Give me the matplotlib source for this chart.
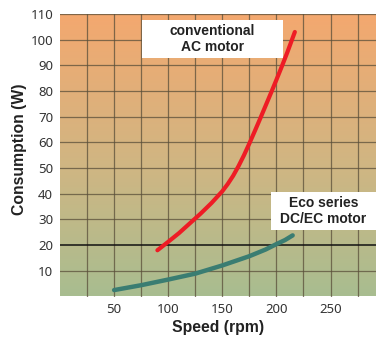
import numpy as np
import matplotlib
matplotlib.use("Agg")
import matplotlib.pyplot as plt
from matplotlib.colors import LinearSegmentedColormap
from matplotlib.patches import Rectangle

# ---- data ----
ac_speed = [90, 100, 110, 120, 130, 140, 150, 155, 160, 165, 170, 175, 180,
            185, 190, 195, 200, 205, 210, 217]
ac_power = [18, 21.3, 24.7, 28.5, 32.3, 36.4, 41, 43.8, 47, 50.8, 55, 59.6,
            64.4, 69.3, 74.3, 79.3, 84.4, 89.6, 95, 103]
eco_speed = [50, 75, 100, 125, 150, 175, 190, 200, 208, 215]
eco_power = [2.5, 4.4, 6.6, 8.9, 12.1, 15.7, 18.3, 20.4, 22.0, 23.8]
x_ticks = [50, 100, 150, 200, 250]
y_ticks = [10, 20, 30, 40, 50, 60, 70, 80, 90, 100, 110]
ac_label = "conventional\nAC motor"
eco_label = "Eco series\nDC/EC motor"
x_title = "Speed (rpm)"
y_title = "Consumption (W)"

W, H = 376, 340
fig = plt.figure(figsize=(W / 100, H / 100), dpi=100)
fig.patch.set_facecolor("white")
ax = fig.add_axes([60 / W, 1 - 296.5 / H, 316 / W, (296.5 - 14) / H])

xmax, ymax = 292, 110
ax.set_xlim(0, xmax)
ax.set_ylim(0, ymax)

# gradient background
cmap = LinearSegmentedColormap.from_list(
    "bg", [(0.0, "#a8bd90"), (0.45, "#cfb683"), (1.0, "#f4a86f")])
grad = np.linspace(0, 1, 256).reshape(-1, 1)
ax.imshow(grad, cmap=cmap, extent=[0, xmax, 0, ymax], origin="lower",
          aspect="auto", zorder=0)

# grid
for gx in range(25, 300, 25):
    ax.axvline(gx, color="#5a4f3a", lw=0.9, alpha=0.75, zorder=1)
for gy in range(10, 120, 10):
    if gy == 20:
        ax.axhline(gy, color="#111111", lw=1.1, zorder=1)
    else:
        ax.axhline(gy, color="#5a4f3a", lw=0.9, alpha=0.75, zorder=1)

ax.plot(ac_speed, ac_power, color="#ee1c25", lw=3.0,
        solid_capstyle="round", solid_joinstyle="round", zorder=3)
ax.plot(eco_speed, eco_power, color="#3a7d72", lw=3.2,
        solid_capstyle="round", solid_joinstyle="round", zorder=3)

for s in ax.spines.values():
    s.set_visible(False)
ax.tick_params(length=0, colors="#333333")
ax.set_xticks(x_ticks)
ax.set_yticks(y_ticks)
for lab in ax.get_xticklabels() + ax.get_yticklabels():
    lab.set_fontfamily("Noto Sans")
    lab.set_fontsize(9.5)
    lab.set_color("#333333")
ax.tick_params(axis="x", pad=5)
ax.tick_params(axis="y", pad=5)

ax.set_xlabel(x_title, fontfamily="Liberation Sans", fontweight="bold",
              fontsize=11.3, color="#222222")
ax.xaxis.set_label_coords(0.5, -0.083)
ax.set_ylabel(y_title, fontfamily="Liberation Sans", fontweight="bold",
              fontsize=11.3, color="#222222")
ax.yaxis.set_label_coords(-0.105, 0.52)

# annotation boxes (axes fraction coordinates)
def fx(px):
    return (px - 60) / 316

def fy(py):
    return (296.5 - py) / 282.5

for (x0, x1, y0, y1, txt) in [(142, 283, 20, 58, ac_label),
                              (271, 376, 192, 230, eco_label)]:
    ax.add_patch(Rectangle((fx(x0), fy(y1)), fx(x1) - fx(x0), fy(y0) - fy(y1),
                           transform=ax.transAxes, facecolor="white",
                           edgecolor="none", zorder=4, clip_on=False))
    ax.text((fx(x0) + fx(x1)) / 2, (fy(y0) + fy(y1)) / 2, txt,
            transform=ax.transAxes, ha="center", va="center",
            fontfamily="Liberation Sans", fontweight="bold", fontsize=10,
            color="#222222", linespacing=1.1, zorder=5)

fig.savefig("out.png", dpi=100)
